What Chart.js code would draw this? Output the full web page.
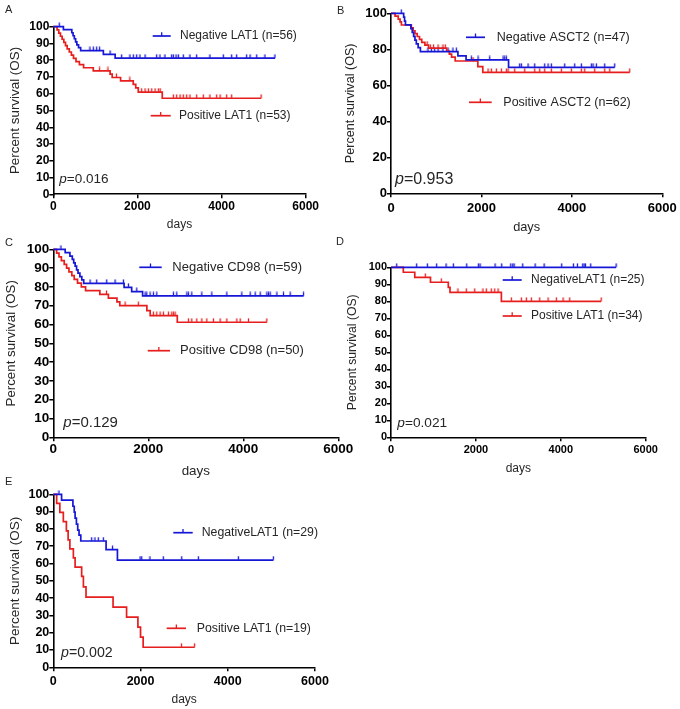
<!DOCTYPE html>
<html><head><meta charset="utf-8">
<script src="https://cdn.jsdelivr.net/npm/chart.js@4.4.0/dist/chart.umd.min.js"></script>
<style>
html,body{margin:0;padding:0;background:#fff;}
#wrap{position:relative;width:680px;height:709px;overflow:hidden;background:#fff;}
#wrap canvas{position:absolute;left:0;top:0;}
</style></head><body>
<div id="wrap">
<canvas id="cA" width="680" height="709"></canvas>
<canvas id="cB" width="680" height="709"></canvas>
<canvas id="cC" width="680" height="709"></canvas>
<canvas id="cD" width="680" height="709"></canvas>
<canvas id="cE" width="680" height="709"></canvas>
</div>
<script>
// ---------- DATA ----------
const xTickValues = [0, 2000, 4000, 6000];
const yTicks10 = [0, 10, 20, 30, 40, 50, 60, 70, 80, 90, 100];
const yTicks20 = [0, 20, 40, 60, 80, 100];

// Panel A
const labelsA = ['Negative LAT1 (n=56)', 'Positive LAT1 (n=53)'];
const aNegEvDays = [240, 440, 470, 500, 530, 560, 600, 650, 1190, 1470];
const aNegEvSurv = [98.2, 96.4, 94.6, 92.8, 91.0, 89.2, 87.5, 85.7, 83.5, 81.2];
const aNegCensor = [140, 872, 951, 1030, 1100, 1348, 1625, 1823, 1902, 1981, 2061, 2180, 2457, 2536, 2655, 2814, 2853, 2917, 2972, 3090, 3249, 3408, 3725, 4041, 4240, 4359, 4597, 4676, 4835, 5032, 5270];
const aPosEvDays = [90, 130, 170, 210, 250, 290, 330, 380, 430, 480, 540, 620, 720, 950, 1350, 1400, 1600, 1900, 1960, 2020, 2590];
const aPosEvSurv = [98.1, 96.2, 94.3, 92.5, 90.6, 88.7, 86.8, 84.9, 83.0, 81.1, 79.2, 77.4, 75.5, 73.6, 71.7, 69.7, 67.7, 65.6, 63.5, 61.0, 57.3];
const aPosCensor = [1100, 1300, 1500, 1820, 2101, 2180, 2259, 2339, 2418, 2497, 2540, 2853, 2933, 3012, 3090, 3170, 3249, 3408, 3566, 3725, 3884, 3963, 4121, 4240, 4940];

// Panel B
const labelsB = ['Negative ASCT2 (n=47)', 'Positive ASCT2 (n=62)'];
const bNegEvDays = [280, 300, 320, 440, 470, 500, 530, 560, 600, 650, 1480, 1660, 2600];
const bNegEvSurv = [97.9, 95.7, 93.6, 91.5, 89.4, 87.2, 85.1, 83.0, 80.9, 78.7, 76.4, 74.1, 70.0];
const bNegCensor = [228, 818, 892, 966, 1040, 1150, 1261, 1371, 1445, 1777, 1925, 2183, 2478, 2515, 2551, 2846, 2883, 3031, 3179, 3400, 3473, 3546, 3842, 4063, 4210, 4431, 4468, 4542, 4727, 4948];
const bPosEvDays = [90, 160, 200, 230, 450, 490, 530, 580, 630, 680, 750, 830, 1230, 1290, 1340, 1420, 1920, 2030];
const bPosEvSurv = [98.4, 96.8, 95.2, 93.5, 91.9, 90.3, 88.7, 87.1, 85.5, 83.9, 82.3, 80.6, 79.0, 77.3, 75.6, 73.5, 70.4, 67.2];
const bPosCensor = [800, 870, 940, 1040, 1150, 1200, 1814, 2146, 2219, 2330, 2440, 2551, 2588, 2736, 2957, 3179, 3289, 3400, 3546, 3767, 3989, 4210, 4284, 4505, 4727, 4838, 5280];

// Panel C
const labelsC = ['Negative CD98 (n=59)', 'Positive CD98 (n=50)'];
const cNegEvDays = [250, 350, 400, 430, 460, 490, 520, 560, 600, 640, 1490, 1650, 1880];
const cNegEvSurv = [98.2, 96.4, 94.6, 92.8, 91.0, 89.1, 87.3, 85.5, 83.7, 81.9, 79.8, 77.5, 75.2];
const cNegCensor = [161, 773, 914, 1125, 1300, 1476, 1581, 1757, 1932, 1968, 2037, 2107, 2178, 2528, 2600, 2811, 2845, 2916, 3127, 3338, 3654, 3970, 4145, 4250, 4355, 4496, 4530, 4566, 4707, 4846, 4987, 5268];
const cPosEvDays = [70, 120, 170, 230, 280, 330, 390, 440, 510, 590, 680, 980, 1160, 1340, 1400, 1970, 2040, 2610];
const cPosEvSurv = [98, 96, 94, 92, 90, 88, 86, 84, 82, 80, 78, 76, 74, 72, 70, 67.4, 64.7, 61.2];
const cPosCensor = [1120, 1511, 1791, 2107, 2178, 2248, 2318, 2423, 2494, 2528, 2564, 2845, 2916, 3021, 3127, 3232, 3371, 3512, 3654, 3864, 3934, 4109, 4496];

// Panel D
const labelsD = ['NegativeLAT1 (n=25)', 'Positive LAT1 (n=34)'];
const dNegEvDays = [];
const dNegEvSurv = [];
const dNegCensor = [134, 605, 856, 1076, 1296, 1469, 1783, 2058, 2097, 2450, 2608, 2820, 2867, 2899, 3103, 3394, 3606, 4022, 4297, 4391, 4517, 4548, 4580, 4705, 5302];
const dPosEvDays = [290, 560, 930, 1350, 1390, 2600];
const dPosEvSurv = [97.1, 94.1, 91.2, 88.2, 85.3, 80.0];
const dPosCensor = [808, 1185, 1578, 1774, 1972, 2167, 2245, 2363, 2443, 2521, 2835, 3070, 3188, 3306, 3504, 3699, 3895, 4053, 4210, 4950];

// Panel E
const labelsE = ['NegativeLAT1 (n=29)', 'Positive LAT1 (n=19)'];
const eNegEvDays = [190, 450, 480, 500, 530, 560, 590, 630, 1210, 1470];
const eNegEvSurv = [96.6, 93.1, 89.7, 86.2, 82.8, 79.3, 76.4, 73.0, 68.0, 62.0];
const eNegCensor = [130, 880, 956, 1032, 1147, 1358, 1988, 2027, 2217, 2522, 2944, 3325, 4242, 5045];
const ePosEvDays = [77, 150, 230, 300, 340, 380, 460, 500, 650, 690, 750, 1370, 1680, 1940, 2000, 2060];
const ePosEvSurv = [94.7, 89.5, 84.2, 78.9, 73.7, 68.4, 63.2, 57.9, 52.6, 46.5, 40.6, 34.8, 29.0, 23.2, 17.4, 11.6];
const ePosCensor = [2940, 3240];

const pValues = ['0.016', '0.953', '0.129', '0.021', '0.002'];

// ---------- STYLE / LAYOUT ----------
const FONT = '"Liberation Sans", Arial, Helvetica, sans-serif';
const BLUE = 'rgb(22,22,215)';
const RED = 'rgb(230,30,30)';
const TEXT = '#262626';
Chart.defaults.font.family = FONT;

const layouts = [
  {canvas:'cA', letter:'A', letterX:5, letterY:10, x0:53.3, x1:305.7, yTop:26.7, yBot:194.3, yTicks:yTicks10, tickSize:12, xTickPad:1.5, daysSize:12, daysY:225, ySize:13.4, yTitleX:15, pX:59.3, pY:179, pSize:13.5,
   legends:[{lx0:152.7, lx1:170.7, ly:36, tx:180, size:12},{lx0:150.7, lx1:170.7, ly:115.7, tx:179, size:12}]},
  {canvas:'cB', letter:'B', letterX:337, letterY:11, x0:391, x1:662.3, yTop:13.3, yBot:193.3, yTicks:yTicks20, tickSize:13, xTickPad:3.5, daysSize:12.8, daysY:227, ySize:12.6, yTitleX:351, pX:395, pY:180, pSize:16,
   legends:[{lx0:466, lx1:485, ly:37.3, tx:496.7, size:12.5},{lx0:469, lx1:491.7, ly:102.3, tx:503.3, size:12.5}]},
  {canvas:'cC', letter:'C', letterX:5, letterY:242.5, x0:53.3, x1:338.3, yTop:249.3, yBot:437.3, yTicks:yTicks10, tickSize:13.5, xTickPad:0, daysSize:13.4, daysY:471.7, ySize:13.3, yTitleX:11.7, pX:63.3, pY:422.7, pSize:15,
   legends:[{lx0:139.3, lx1:161.7, ly:267.3, tx:172.3, size:13},{lx0:147.7, lx1:170, ly:350.7, tx:180, size:13}]},
  {canvas:'cD', letter:'D', letterX:336, letterY:241.5, x0:391, x1:645.7, yTop:267.3, yBot:437.3, yTicks:yTicks10, tickSize:11, xTickPad:2.5, daysSize:12, daysY:469, ySize:12.2, yTitleX:352.7, pX:397.3, pY:423.3, pSize:13.7,
   legends:[{lx0:502.7, lx1:521.7, ly:280, tx:531, size:12},{lx0:502.7, lx1:521.7, ly:316, tx:531, size:12}]},
  {canvas:'cE', letter:'E', letterX:5, letterY:482, x0:53.3, x1:315, yTop:494.3, yBot:667.3, yTicks:yTicks10, tickSize:12.5, xTickPad:3, daysSize:12, daysY:699.3, ySize:13.5, yTitleX:15, pX:61, pY:653.3, pSize:14.2,
   legends:[{lx0:173.3, lx1:192.7, ly:532.7, tx:201.7, size:12.3},{lx0:166.7, lx1:186, ly:628.3, tx:196.7, size:12.3}]}
];

const seriesSets = [
  [{label:labelsA[0], color:BLUE, ev:aNegEvDays, sv:aNegEvSurv, cens:aNegCensor},{label:labelsA[1], color:RED, ev:aPosEvDays, sv:aPosEvSurv, cens:aPosCensor}],
  [{label:labelsB[0], color:BLUE, ev:bNegEvDays, sv:bNegEvSurv, cens:bNegCensor},{label:labelsB[1], color:RED, ev:bPosEvDays, sv:bPosEvSurv, cens:bPosCensor}],
  [{label:labelsC[0], color:BLUE, ev:cNegEvDays, sv:cNegEvSurv, cens:cNegCensor},{label:labelsC[1], color:RED, ev:cPosEvDays, sv:cPosEvSurv, cens:cPosCensor}],
  [{label:labelsD[0], color:BLUE, ev:dNegEvDays, sv:dNegEvSurv, cens:dNegCensor},{label:labelsD[1], color:RED, ev:dPosEvDays, sv:dPosEvSurv, cens:dPosCensor}],
  [{label:labelsE[0], color:BLUE, ev:eNegEvDays, sv:eNegEvSurv, cens:eNegCensor},{label:labelsE[1], color:RED, ev:ePosEvDays, sv:ePosEvSurv, cens:ePosCensor}]
];

// ---------- HELPERS ----------
function levelAt(ev, sv, t) {
  let y = 100;
  for (let i = 0; i < ev.length; i++) if (ev[i] <= t) y = sv[i];
  return y;
}
function kmPoints(s) {
  const pts = [{x:0, y:100}];
  s.ev.forEach((t, i) => pts.push({x:t, y:s.sv[i]}));
  const end = Math.max(...s.cens, ...s.ev);
  pts.push({x:end, y: s.sv.length ? s.sv[s.sv.length - 1] : 100});
  return pts;
}
function censorPoints(s) {
  return s.cens.map(t => ({x:t, y:levelAt(s.ev, s.sv, t)}));
}
function tickImage(color) {
  const c = document.createElement('canvas');
  c.width = 3; c.height = 9;
  const g = c.getContext('2d');
  g.strokeStyle = color; g.lineWidth = 1.3;
  g.beginPath(); g.moveTo(1.5, 0.5); g.lineTo(1.5, 4.5); g.stroke();
  return c;
}

const YW = 53;

function makePanel(L, series, pText) {
  const lh = L.daysSize * 1.2;
  const XH = L.daysY - L.yBot + lh / 2 + 2;
  const xTitlePad = 2;
  const yLh = L.ySize * 1.2;
  const yTitlePad = L.yTitleX - (L.x0 - YW) - yLh / 2;
  const datasets = [];
  series.forEach(s => {
    datasets.push({type:'line', label:s.label, data:kmPoints(s), borderColor:s.color, borderWidth:1.7,
      stepped:'before', pointRadius:0, fill:false, clip:false, tension:0});
  });
  series.forEach(s => {
    datasets.push({type:'line', label:s.label + ' censored', data:censorPoints(s), showLine:false,
      pointStyle:tickImage(s.color), pointRadius:3, pointHoverRadius:3, borderColor:s.color, backgroundColor:s.color, clip:false});
  });

  const textPlugin = {
    id:'kmText',
    afterDraw(chart) {
      const ctx = chart.ctx;
      ctx.save();
      ctx.fillStyle = TEXT;
      ctx.font = '11px ' + FONT;
      ctx.textAlign = 'left'; ctx.textBaseline = 'middle';
      ctx.fillText(L.letter, L.letterX, L.letterY);
      L.legends.forEach((lg, i) => {
        const s = series[i];
        ctx.strokeStyle = s.color; ctx.lineWidth = 1.7;
        ctx.beginPath(); ctx.moveTo(lg.lx0, lg.ly); ctx.lineTo(lg.lx1, lg.ly); ctx.stroke();
        const mx = (lg.lx0 + lg.lx1) / 2;
        ctx.lineWidth = 1.3;
        ctx.beginPath(); ctx.moveTo(mx, lg.ly - 3.8); ctx.lineTo(mx, lg.ly); ctx.stroke();
        ctx.fillStyle = TEXT;
        ctx.font = lg.size + 'px ' + FONT;
        ctx.fillText(s.label, lg.tx, lg.ly);
      });
      ctx.fillStyle = TEXT;
      ctx.font = 'italic ' + L.pSize + 'px ' + FONT;
      ctx.fillText('p', L.pX, L.pY);
      const w = ctx.measureText('p').width;
      ctx.font = L.pSize + 'px ' + FONT;
      ctx.fillText('=' + pText, L.pX + w, L.pY);
      ctx.restore();
    }
  };

  const gridCfg = {display:true, drawOnChartArea:false, drawTicks:true, tickLength:4, color:'#000', lineWidth:1.5};
  const borderCfg = {display:true, color:'#000', width:1.6};
  const tickFont = {family:FONT, size:L.tickSize, weight:'bold'};

  return new Chart(document.getElementById(L.canvas), {
    type:'line',
    data:{datasets},
    options:{
      responsive:false, animation:false, events:[],
      layout:{padding:{left:L.x0 - YW, top:L.yTop, right:680 - L.x1, bottom:709 - L.yBot - XH}},
      plugins:{legend:{display:false}, tooltip:{enabled:false}},
      scales:{
        x:{type:'linear', min:0, max:6000,
          afterBuildTicks:s => { s.ticks = xTickValues.map(v => ({value:v})); },
          ticks:{font:tickFont, color:'#000', padding:L.xTickPad, maxRotation:0, autoSkip:false, callback:v => String(v)},
          grid:gridCfg, border:borderCfg,
          title:{display:true, text:'days', color:TEXT, font:{family:FONT, size:L.daysSize}, padding:{top:0, bottom:xTitlePad}},
          afterFit:s => { s.height = XH; s.paddingLeft = 0; s.paddingRight = 0; }
        },
        y:{type:'linear', min:0, max:100,
          afterBuildTicks:s => { s.ticks = L.yTicks.map(v => ({value:v})); },
          ticks:{font:tickFont, color:'#000', padding:0, autoSkip:false, callback:v => String(v)},
          grid:gridCfg, border:borderCfg,
          title:{display:true, text:'Percent survival (OS)', color:TEXT, font:{family:FONT, size:L.ySize}, padding:{top:yTitlePad, bottom:0}},
          afterFit:s => { s.width = YW; s.paddingTop = 0; s.paddingBottom = 0; }
        }
      }
    },
    plugins:[textPlugin]
  });
}

layouts.forEach((L, i) => makePanel(L, seriesSets[i], pValues[i]));
</script>
</body></html>
